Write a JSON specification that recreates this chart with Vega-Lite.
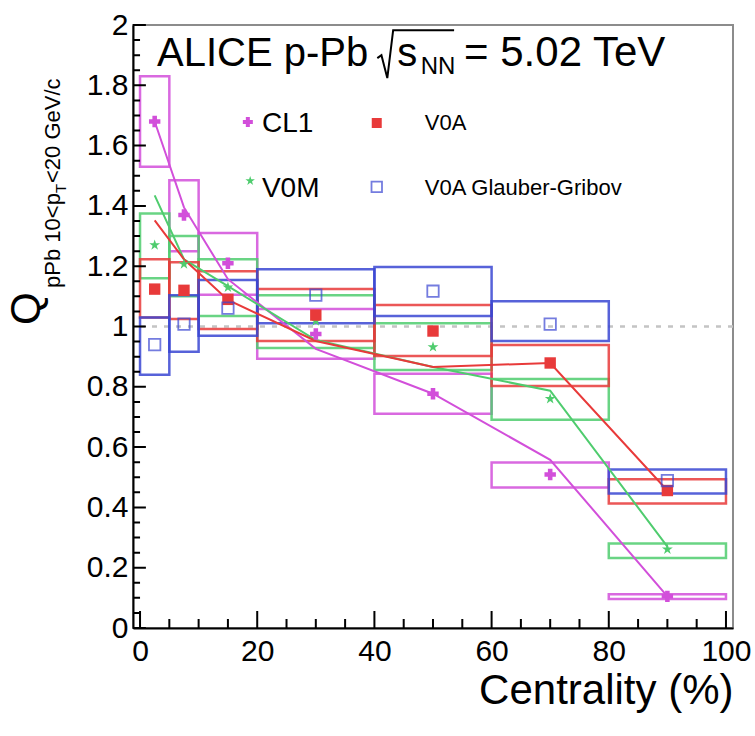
{
  "$schema": "https://vega.github.io/schema/vega-lite/v6.json",
  "width": 600,
  "height": 603,
  "autosize": {"type": "none"},
  "padding": {"left": 133, "top": 25, "right": 22, "bottom": 108},
  "background": "white",
  "config": {
    "view": {"stroke": "#8c8c8c", "strokeWidth": 2},
    "font": "Liberation Sans",
    "axis": {"grid": false, "labelFont": "Liberation Sans", "titleFont": "Liberation Sans", "labelColor": "black", "titleColor": "black", "domainColor": "black", "titleFontWeight": "normal"}
  },
  "datasets": {
    "bins": [
      {"s": "CL1", "lo": 0, "hi": 5, "c": 2.5, "v": 1.68, "elo": 1.53, "ehi": 1.83},
      {"s": "CL1", "lo": 5, "hi": 10, "c": 7.5, "v": 1.37, "elo": 1.25, "ehi": 1.485},
      {"s": "CL1", "lo": 10, "hi": 20, "c": 15, "v": 1.21, "elo": 1.105, "ehi": 1.31},
      {"s": "CL1", "lo": 20, "hi": 40, "c": 30, "v": 0.975, "elo": 0.893, "ehi": 1.058},
      {"s": "CL1", "lo": 40, "hi": 60, "c": 50, "v": 0.777, "elo": 0.711, "ehi": 0.843},
      {"s": "CL1", "lo": 60, "hi": 80, "c": 70, "v": 0.509, "elo": 0.466, "ehi": 0.549},
      {"s": "CL1", "lo": 80, "hi": 100, "c": 90, "v": 0.105, "elo": 0.096, "ehi": 0.112},
      {"s": "V0M", "lo": 0, "hi": 5, "c": 2.5, "v": 1.27, "elo": 1.16, "ehi": 1.375},
      {"s": "V0M", "lo": 5, "hi": 10, "c": 7.5, "v": 1.207, "elo": 1.1, "ehi": 1.3},
      {"s": "V0M", "lo": 10, "hi": 20, "c": 15, "v": 1.13, "elo": 1.035, "ehi": 1.223},
      {"s": "V0M", "lo": 20, "hi": 40, "c": 30, "v": 1.018, "elo": 0.929, "ehi": 1.104},
      {"s": "V0M", "lo": 40, "hi": 60, "c": 50, "v": 0.932, "elo": 0.856, "ehi": 1.011},
      {"s": "V0M", "lo": 60, "hi": 80, "c": 70, "v": 0.76, "elo": 0.691, "ehi": 0.826},
      {"s": "V0M", "lo": 80, "hi": 100, "c": 90, "v": 0.261, "elo": 0.232, "ehi": 0.28},
      {"s": "V0A", "lo": 0, "hi": 5, "c": 2.5, "v": 1.124, "elo": 1.03, "ehi": 1.223},
      {"s": "V0A", "lo": 5, "hi": 10, "c": 7.5, "v": 1.12, "elo": 1.025, "ehi": 1.213},
      {"s": "V0A", "lo": 10, "hi": 20, "c": 15, "v": 1.09, "elo": 0.992, "ehi": 1.183},
      {"s": "V0A", "lo": 20, "hi": 40, "c": 30, "v": 1.038, "elo": 0.952, "ehi": 1.124},
      {"s": "V0A", "lo": 40, "hi": 60, "c": 50, "v": 0.985, "elo": 0.902, "ehi": 1.071},
      {"s": "V0A", "lo": 60, "hi": 80, "c": 70, "v": 0.879, "elo": 0.803, "ehi": 0.939},
      {"s": "V0A", "lo": 80, "hi": 100, "c": 90, "v": 0.456, "elo": 0.413, "ehi": 0.493},
      {"s": "GG", "lo": 0, "hi": 5, "c": 2.5, "v": 0.94, "elo": 0.84, "ehi": 1.03},
      {"s": "GG", "lo": 5, "hi": 10, "c": 7.5, "v": 1.008, "elo": 0.916, "ehi": 1.104},
      {"s": "GG", "lo": 10, "hi": 20, "c": 15, "v": 1.061, "elo": 0.969, "ehi": 1.154},
      {"s": "GG", "lo": 20, "hi": 40, "c": 30, "v": 1.104, "elo": 1.011, "ehi": 1.19},
      {"s": "GG", "lo": 40, "hi": 60, "c": 50, "v": 1.117, "elo": 1.035, "ehi": 1.197},
      {"s": "GG", "lo": 60, "hi": 80, "c": 70, "v": 1.008, "elo": 0.952, "ehi": 1.084},
      {"s": "GG", "lo": 80, "hi": 100, "c": 90, "v": 0.489, "elo": 0.446, "ehi": 0.526}
    ],
    "model": [
      {"s": "CL1", "x": 2.5, "m": 1.68},
      {"s": "CL1", "x": 7.5, "m": 1.395},
      {"s": "CL1", "x": 15, "m": 1.157},
      {"s": "CL1", "x": 30, "m": 0.926},
      {"s": "CL1", "x": 50, "m": 0.777},
      {"s": "CL1", "x": 70, "m": 0.558},
      {"s": "CL1", "x": 90, "m": 0.105},
      {"s": "V0M", "x": 2.5, "m": 1.435},
      {"s": "V0M", "x": 7.5, "m": 1.223},
      {"s": "V0M", "x": 15, "m": 1.134},
      {"s": "V0M", "x": 30, "m": 0.955},
      {"s": "V0M", "x": 50, "m": 0.866},
      {"s": "V0M", "x": 70, "m": 0.787},
      {"s": "V0M", "x": 90, "m": 0.27},
      {"s": "V0A", "x": 2.5, "m": 1.352},
      {"s": "V0A", "x": 7.5, "m": 1.223},
      {"s": "V0A", "x": 15, "m": 1.088},
      {"s": "V0A", "x": 30, "m": 0.952},
      {"s": "V0A", "x": 50, "m": 0.866},
      {"s": "V0A", "x": 70, "m": 0.879},
      {"s": "V0A", "x": 90, "m": 0.456}
    ],
    "xmaj": [{"v": 0}, {"v": 20}, {"v": 40}, {"v": 60}, {"v": 80}, {"v": 100}],
    "xmin": [{"v": 5}, {"v": 10}, {"v": 15}, {"v": 25}, {"v": 30}, {"v": 35}, {"v": 45}, {"v": 50}, {"v": 55}, {"v": 65}, {"v": 70}, {"v": 75}, {"v": 85}, {"v": 90}, {"v": 95}],
    "ymaj": [{"v": 0}, {"v": 0.2}, {"v": 0.4}, {"v": 0.6}, {"v": 0.8}, {"v": 1}, {"v": 1.2}, {"v": 1.4}, {"v": 1.6}, {"v": 1.8}, {"v": 2}],
    "ymin": [{"v": 0.05}, {"v": 0.1}, {"v": 0.15}, {"v": 0.25}, {"v": 0.3}, {"v": 0.35}, {"v": 0.45}, {"v": 0.5}, {"v": 0.55}, {"v": 0.65}, {"v": 0.7}, {"v": 0.75}, {"v": 0.85}, {"v": 0.9}, {"v": 0.95}, {"v": 1.05}, {"v": 1.1}, {"v": 1.15}, {"v": 1.25}, {"v": 1.3}, {"v": 1.35}, {"v": 1.45}, {"v": 1.5}, {"v": 1.55}, {"v": 1.65}, {"v": 1.7}, {"v": 1.75}, {"v": 1.85}, {"v": 1.9}, {"v": 1.95}],
    "legmark": [
      {"s": "CL1", "x": 18.4, "y": 1.678},
      {"s": "V0M", "x": 18.8, "y": 1.483},
      {"s": "V0A", "x": 40.4, "y": 1.675},
      {"s": "GG", "x": 40.4, "y": 1.463}
    ],
    "legbig": [
      {"x": 20.8, "y": 1.672, "t": "CL1"},
      {"x": 20.8, "y": 1.456, "t": "V0M"}
    ],
    "legsmall": [
      {"x": 48.6, "y": 1.675, "t": "V0A"},
      {"x": 48.6, "y": 1.459, "t": "V0A Glauber-Gribov"}
    ],
    "titleleft": [
      {"x": 2.9, "y": 1.864, "t": "ALICE p-Pb"},
      {"x": 43.9, "y": 1.864, "t": "s"}
    ],
    "titleright": [
      {"x": 55.3, "y": 1.864, "t": "= 5.02 TeV"}
    ],
    "titlesub": [
      {"x": 47.9, "y": 1.838, "t": "NN"}
    ],
    "sqrt": [
      {"o": 1, "x": 40.5, "y": 1.89},
      {"o": 2, "x": 41.2, "y": 1.9},
      {"o": 3, "x": 42.2, "y": 1.824},
      {"o": 4, "x": 43.2, "y": 1.983},
      {"o": 5, "x": 53.6, "y": 1.983}
    ],
    "ytitleQ": [
      {"x": -17.1, "y": 1.005, "t": "Q"}
    ],
    "ytitlesub": [
      {"x": -13.7, "y": 1.128, "t": "pPb 10<p"},
      {"x": -13.7, "y": 1.476, "t": "<20 GeV/c"}
    ],
    "ytitlesub2": [
      {"x": -12.6, "y": 1.443, "t": "T"}
    ],
    "unity": [{"y": 1}]
  },
  "layer": [
    {
      "data": {"name": "unity"},
      "mark": {"type": "rule", "color": "#c4c4c4", "strokeWidth": 2.5, "strokeDash": [5, 7]},
      "encoding": {
        "y": {"field": "y", "type": "quantitative", "scale": {"domain": [0, 2]}}
      }
    },
    {
      "data": {"name": "bins"},
      "mark": {"type": "rect", "filled": false, "strokeWidth": 2.5, "strokeOpacity": 0.85},
      "encoding": {
        "x": {"field": "lo", "type": "quantitative", "scale": {"domain": [-1.2, 101.2], "nice": false, "zero": false},
              "axis": {"orient": "bottom", "values": [0, 20, 40, 60, 80, 100], "format": "d", "ticks": false, "domain": true, "domainWidth": 2, "labelFontSize": 30, "labelPadding": 8, "title": "Centrality (%)", "titleFontSize": 42, "titleAnchor": "end", "titlePadding": 4}},
        "x2": {"field": "hi"},
        "y": {"field": "elo", "type": "quantitative", "scale": {"domain": [0, 2], "nice": false, "zero": false},
              "axis": {"orient": "left", "values": [0, 0.2, 0.4, 0.6, 0.8, 1, 1.2, 1.4, 1.6, 1.8, 2], "format": "~g", "ticks": false, "domain": true, "domainWidth": 2, "labelFontSize": 30, "labelPadding": 5, "title": null}},
        "y2": {"field": "ehi"},
        "color": {"field": "s", "type": "nominal", "scale": {"domain": ["CL1", "V0M", "V0A", "GG"], "range": ["#d24fda", "#4fcc6e", "#e83a3a", "#3a46d2"]}, "legend": null}
      }
    },
    {
      "data": {"name": "xmaj"},
      "mark": {"type": "rect", "filled": false, "stroke": "#000000", "strokeWidth": 2, "opacity": 1},
      "encoding": {
        "x": {"field": "v", "type": "quantitative"},
        "x2": {"field": "v"},
        "y": {"datum": 0},
        "y2": {"datum": 0.056}
      }
    },
    {
      "data": {"name": "xmin"},
      "mark": {"type": "rect", "filled": false, "stroke": "#000000", "strokeWidth": 2, "opacity": 1},
      "encoding": {
        "x": {"field": "v", "type": "quantitative"},
        "x2": {"field": "v"},
        "y": {"datum": 0},
        "y2": {"datum": 0.03}
      }
    },
    {
      "data": {"name": "ymaj"},
      "mark": {"type": "rect", "filled": false, "stroke": "#000000", "strokeWidth": 2, "opacity": 1},
      "encoding": {
        "y": {"field": "v", "type": "quantitative"},
        "y2": {"field": "v"},
        "x": {"datum": -1.2},
        "x2": {"datum": 1.0}
      }
    },
    {
      "data": {"name": "ymin"},
      "mark": {"type": "rect", "filled": false, "stroke": "#000000", "strokeWidth": 2, "opacity": 1},
      "encoding": {
        "y": {"field": "v", "type": "quantitative"},
        "y2": {"field": "v"},
        "x": {"datum": -1.2},
        "x2": {"datum": 0.0}
      }
    },
    {
      "data": {"name": "model"},
      "mark": {"type": "line", "strokeWidth": 2},
      "encoding": {
        "x": {"field": "x", "type": "quantitative"},
        "y": {"field": "m", "type": "quantitative"},
        "color": {"field": "s", "type": "nominal", "legend": null},
        "order": {"field": "x"}
      }
    },
    {
      "data": {"name": "bins"},
      "transform": [{"filter": "datum.s != 'GG'"}],
      "mark": {"type": "point", "filled": true, "opacity": 1},
      "encoding": {
        "x": {"field": "c", "type": "quantitative"},
        "y": {"field": "v", "type": "quantitative"},
        "color": {"field": "s", "type": "nominal", "legend": null},
        "shape": {"field": "s", "type": "nominal", "scale": {"domain": ["CL1", "V0M", "V0A"], "range": ["cross", "M0,-1L0.2245,-0.309L0.951,-0.309L0.363,0.118L0.588,0.809L0,0.382L-0.588,0.809L-0.363,0.118L-0.951,-0.309L-0.2245,-0.309Z", "square"]}, "legend": null},
        "size": {"value": 130}
      }
    },
    {
      "data": {"name": "bins"},
      "transform": [{"filter": "datum.s == 'GG'"}],
      "mark": {"type": "point", "shape": "square", "filled": false, "strokeWidth": 1.8, "size": 130},
      "encoding": {
        "x": {"field": "c", "type": "quantitative"},
        "y": {"field": "v", "type": "quantitative"},
        "color": {"field": "s", "type": "nominal", "legend": null}
      }
    },
    {
      "data": {"name": "legmark"},
      "transform": [{"filter": "datum.s != 'GG'"}],
      "mark": {"type": "point", "filled": true, "opacity": 1},
      "encoding": {
        "x": {"field": "x", "type": "quantitative"},
        "y": {"field": "y", "type": "quantitative"},
        "color": {"field": "s", "type": "nominal", "legend": null},
        "shape": {"field": "s", "type": "nominal", "legend": null},
        "size": {"value": 100}
      }
    },
    {
      "data": {"name": "legmark"},
      "transform": [{"filter": "datum.s == 'GG'"}],
      "mark": {"type": "point", "shape": "square", "filled": false, "strokeWidth": 1.8, "size": 110},
      "encoding": {
        "x": {"field": "x", "type": "quantitative"},
        "y": {"field": "y", "type": "quantitative"},
        "color": {"field": "s", "type": "nominal", "legend": null}
      }
    },
    {
      "data": {"name": "legbig"},
      "mark": {"type": "text", "align": "left", "baseline": "middle", "fontSize": 28, "font": "Liberation Sans", "color": "black"},
      "encoding": {
        "x": {"field": "x", "type": "quantitative"},
        "y": {"field": "y", "type": "quantitative"},
        "text": {"field": "t"}
      }
    },
    {
      "data": {"name": "legsmall"},
      "mark": {"type": "text", "align": "left", "baseline": "middle", "fontSize": 22, "font": "Liberation Sans", "color": "black"},
      "encoding": {
        "x": {"field": "x", "type": "quantitative"},
        "y": {"field": "y", "type": "quantitative"},
        "text": {"field": "t"}
      }
    },
    {
      "data": {"name": "titleleft"},
      "mark": {"type": "text", "align": "left", "baseline": "alphabetic", "fontSize": 40, "font": "Liberation Sans", "color": "black"},
      "encoding": {
        "x": {"field": "x", "type": "quantitative"},
        "y": {"field": "y", "type": "quantitative"},
        "text": {"field": "t"}
      }
    },
    {
      "data": {"name": "titleright"},
      "mark": {"type": "text", "align": "left", "baseline": "alphabetic", "fontSize": 42, "font": "Liberation Sans", "color": "black"},
      "encoding": {
        "x": {"field": "x", "type": "quantitative"},
        "y": {"field": "y", "type": "quantitative"},
        "text": {"field": "t"}
      }
    },
    {
      "data": {"name": "titlesub"},
      "mark": {"type": "text", "align": "left", "baseline": "alphabetic", "fontSize": 24, "font": "Liberation Sans", "color": "black"},
      "encoding": {
        "x": {"field": "x", "type": "quantitative"},
        "y": {"field": "y", "type": "quantitative"},
        "text": {"field": "t"}
      }
    },
    {
      "data": {"name": "sqrt"},
      "mark": {"type": "line", "color": "black", "strokeWidth": 2},
      "encoding": {
        "x": {"field": "x", "type": "quantitative"},
        "y": {"field": "y", "type": "quantitative"},
        "order": {"field": "o"}
      }
    },
    {
      "data": {"name": "ytitleQ"},
      "mark": {"type": "text", "align": "left", "baseline": "alphabetic", "angle": 270, "fontSize": 42, "font": "Liberation Sans", "color": "black", "clip": false},
      "encoding": {
        "x": {"field": "x", "type": "quantitative"},
        "y": {"field": "y", "type": "quantitative"},
        "text": {"field": "t"}
      }
    },
    {
      "data": {"name": "ytitlesub"},
      "mark": {"type": "text", "align": "left", "baseline": "alphabetic", "angle": 270, "fontSize": 22, "font": "Liberation Sans", "color": "black", "clip": false},
      "encoding": {
        "x": {"field": "x", "type": "quantitative"},
        "y": {"field": "y", "type": "quantitative"},
        "text": {"field": "t"}
      }
    },
    {
      "data": {"name": "ytitlesub2"},
      "mark": {"type": "text", "align": "left", "baseline": "alphabetic", "angle": 270, "fontSize": 15, "font": "Liberation Sans", "color": "black", "clip": false},
      "encoding": {
        "x": {"field": "x", "type": "quantitative"},
        "y": {"field": "y", "type": "quantitative"},
        "text": {"field": "t"}
      }
    }
  ]
}
